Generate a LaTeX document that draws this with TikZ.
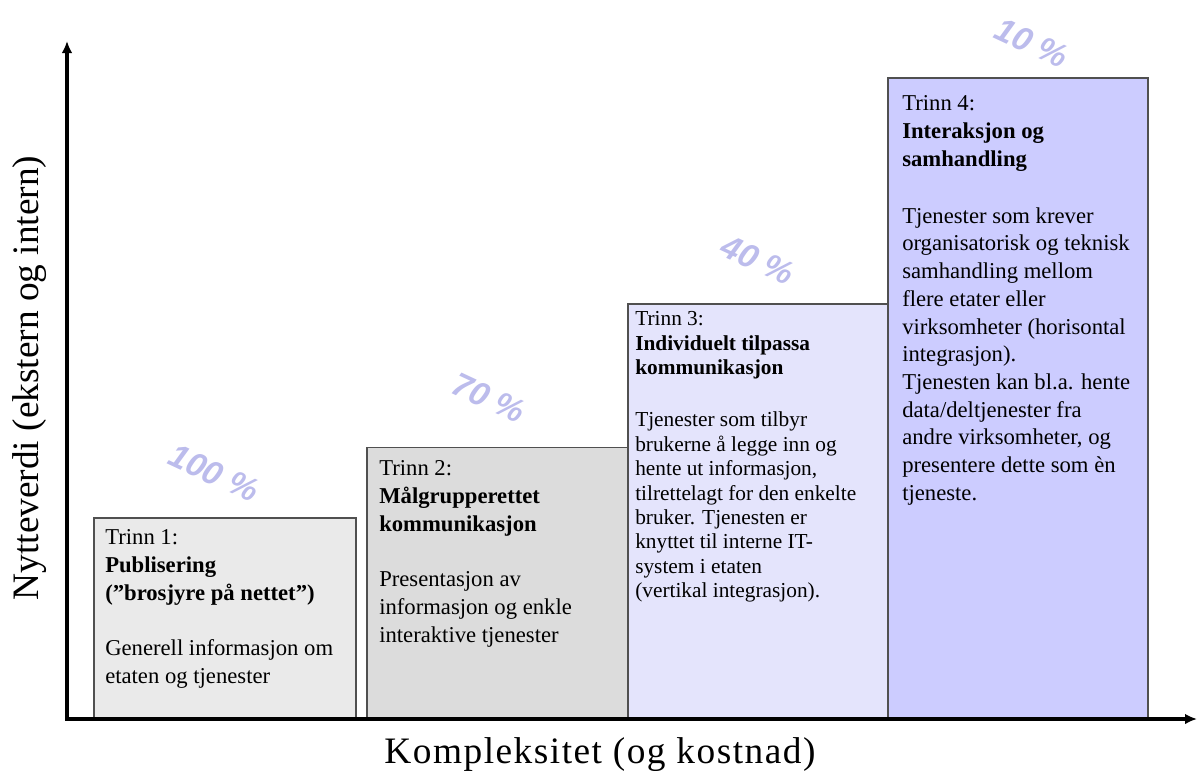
\documentclass[tikz,border=0pt]{standalone}
\usepackage{fontspec}
\setmainfont{Liberation Serif}
\newfontfamily\pctfont{Liberation Sans}
\usetikzlibrary{positioning,arrows.meta}
\definecolor{trinnA}{HTML}{EAEAEA}
\definecolor{trinnB}{HTML}{DCDCDC}
\definecolor{trinnC}{HTML}{E4E4FC}
\definecolor{trinnD}{HTML}{CCCCFF}
\definecolor{kant}{HTML}{505050}
\definecolor{pctblaa}{HTML}{BCBCEC}
\tikzset{
  stepbox/.style={draw=kant, line width=1.3pt, anchor=south west, inner sep=0pt},
  steptext/.style={anchor=north west, align=left, inner sep=0pt, font=\fontsize{17}{21}\selectfont},
  pct/.style={font=\pctfont\bfseries\itshape\fontsize{25}{25}\selectfont, text=pctblaa, rotate=-25},
  akse/.style={line width=3pt, <->, >={Latex[length=9pt,width=8pt]}},
  aksetekst/.style={font=\fontsize{28}{32}\selectfont}
}
\begin{document}
\begin{tikzpicture}[x=0.75pt,y=-0.75pt]
\useasboundingbox (0,0) rectangle (1197,771);
% trinn-boksene
\node[stepbox, fill=trinnA, minimum width=196.5pt, minimum height=150pt] (trinn1) at (93,719) {};
\node[stepbox, fill=trinnB, minimum width=195.75pt, minimum height=203pt] (trinn2) at (366,719) {};
\node[stepbox, fill=trinnC, minimum width=195pt, minimum height=310.5pt] (trinn3) at (627,719) {};
\node[stepbox, fill=trinnD, minimum width=195pt, minimum height=480pt] (trinn4) at (887,719) {};
% tekst i boksene
\node[steptext] (tekst1) at ([shift={(12,12)}]trinn1.north west) {Trinn 1:\\ \textbf{Publisering}\\ \textbf{(”brosjyre på nettet”)}\\[20pt] Generell informasjon om\\ etaten og tjenester};
\node[steptext] (tekst2) at ([shift={(13,14)}]trinn2.north west) {Trinn 2:\\ \textbf{Målgrupperettet}\\ \textbf{kommunikasjon}\\[20pt] Presentasjon av\\ informasjon og enkle\\ interaktive tjenester};
\node[steptext, font=\fontsize{16}{18.3}\selectfont] (tekst3) at ([shift={(8,8)}]trinn3.north west) {Trinn 3:\\ \textbf{Individuelt tilpassa}\\ \textbf{kommunikasjon}\\[21pt] Tjenester som tilbyr\\ brukerne å legge inn og\\ hente ut informasjon,\\ tilrettelagt for den enkelte\\ bruker. Tjenesten er\\ knyttet til interne IT-\\ system i etaten\\ (vertikal integrasjon).};
\node[steptext, font=\fontsize{17}{20.8}\selectfont] (tekst4) at ([shift={(15,18)}]trinn4.north west) {Trinn 4:\\ \textbf{Interaksjon og}\\ \textbf{samhandling}\\[22pt] Tjenester som krever\\ organisatorisk og teknisk\\ samhandling mellom\\ flere etater eller\\ virksomheter (horisontal\\ integrasjon).\\ Tjenesten kan bl.a. hente\\ data/deltjenester fra\\ andre virksomheter, og\\ presentere dette som èn\\ tjeneste.};
% prosenter
\node[pct] (pct1) at (214,473) {100 \%};
\node[pct] (pct2) at (489,398) {70 \%};
\node[pct] (pct3) at (758,260) {40 \%};
\node[pct] (pct4) at (1032,43) {10 \%};
% akser
\coordinate (origo) at (67,719);
\coordinate (ytopp) at (67,41);
\coordinate (xslutt) at (1197,719);
\draw[akse] (ytopp) -- (origo) -- (xslutt);
\node[aksetekst, rotate=90] (ytekst) at (30,378) {Nytteverdi (ekstern og intern)};
\node[aksetekst, font=\fontsize{28}{32}\selectfont\addfontfeature{LetterSpace=4}] (xtekst) at (600,755) {Kompleksitet (og kostnad)};
\end{tikzpicture}
\end{document}
